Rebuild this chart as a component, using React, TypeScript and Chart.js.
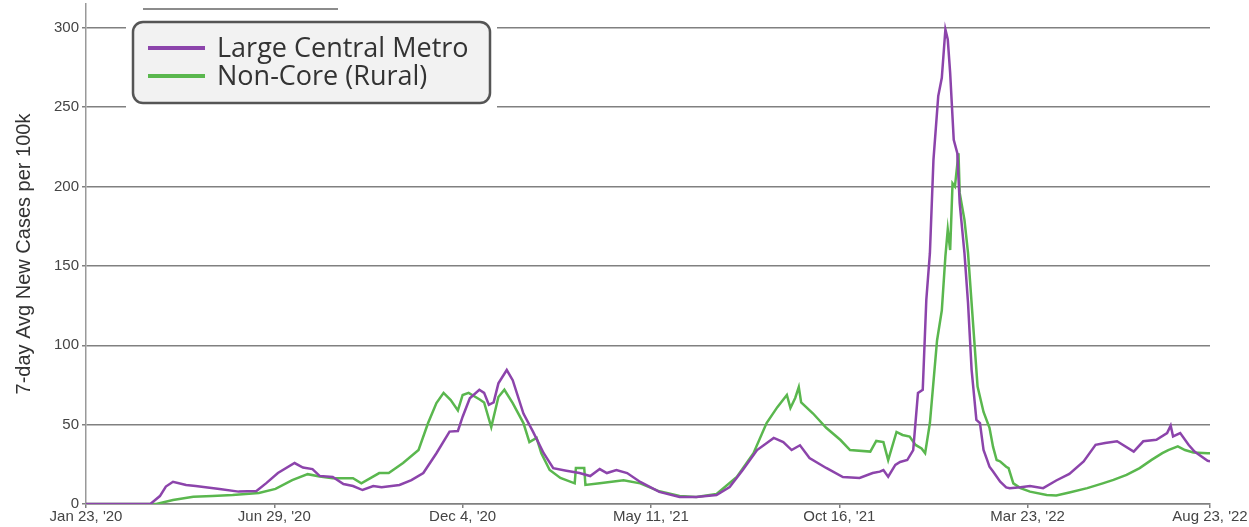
import React, { useEffect, useRef } from 'react';
import { Chart, registerables } from 'chart.js';

Chart.register(...registerables);

// x positions are days since Jan 23, 2020
const tickDays = [0, 158, 316, 474, 632, 790, 943];
const tickLabels = ["Jan 23, '20", "Jun 29, '20", "Dec 4, '20", "May 11, '21", "Oct 16, '21", "Mar 23, '22", "Aug 23, '22"];
const yTicks = [0, 50, 100, 150, 200, 250, 300];

const seriesNames = ['Large Central Metro', 'Non-Core (Rural)'];

const metroDays = [
  0, 54, 62, 67, 73, 84, 92, 112, 128, 143, 151, 161, 175, 182, 190, 196, 207, 216, 224, 232, 241, 248,
  263, 273, 283, 294, 305, 312, 316, 322, 330, 334, 338, 342, 346, 353, 358, 367, 375, 384, 392, 403,
  414, 423, 431, 437, 445, 454, 465, 481, 498, 512, 529, 540, 551, 563, 577, 585, 592, 599, 607, 621,
  635, 649, 660, 666, 669, 673, 679, 683, 689, 694, 698, 702, 705, 708, 711, 715, 718, 721, 723, 725,
  728, 731, 733, 737, 740, 743, 747, 750, 753, 756, 758, 761, 767, 772, 775, 784, 792, 803, 814, 825,
  837, 847, 855, 865, 879, 887, 898, 907, 910, 912, 918, 925, 930, 941, 943,
];
const metroValues = [
  0, 0, 5, 11, 14, 12, 11.3, 9.5, 7.8, 8.2, 13, 19.5, 25.8, 23, 22, 17.7, 17, 12.6, 11.3, 8.8, 11.3, 10.5,
  12, 15, 19.5, 32, 45.6, 46, 55, 66.6, 72, 70, 62.5, 64, 76, 84.4, 78, 57, 45.6, 32, 22.6, 21,
  19.5, 17.6, 22, 19.5, 21.4, 19.5, 13.9, 7.6, 4.4, 4.4, 5.7, 10.7, 21.4, 34, 41.6, 39, 34, 37, 29, 22.7,
  17, 16.4, 19.5, 20.4, 21.4, 17.2, 24.6, 26.5, 27.7, 34, 70, 72, 128.7, 158, 217, 257, 268.5, 299, 292.6, 271.6,
  229.5, 221, 189.6, 158, 126.5, 84.5, 53, 51, 34, 27.8, 23.5, 20.5, 14, 10.5, 9.9, 10.5, 11.4, 10, 14.8, 19,
  26.8, 37.3, 38.4, 39.5, 33, 39.5, 40.5, 44.7, 49.4, 42.6, 44.7, 37.3, 33, 27.2, 27,
];

const ruralDays = [
  0, 59, 73, 90, 106, 123, 145, 159, 173, 186, 196, 207, 224, 231, 246, 254, 266, 279, 287, 294, 300, 306,
  312, 316, 321, 330, 334, 340, 346, 351, 358, 367, 372, 378, 382, 389, 398, 410, 411, 418, 419, 431,
  451, 465, 481, 498, 512, 529, 546, 560, 571, 580, 588, 591, 595, 598, 600, 610, 621, 633, 641, 658,
  663, 669, 673, 680, 685, 691, 696, 701, 704, 708, 714, 718, 721, 723, 725, 727, 729, 732, 733, 737,
  740, 744, 748, 753, 758, 761, 764, 767, 772, 774, 778, 784, 792, 806, 814, 825, 840, 853, 862, 873,
  884, 894, 903, 908, 916, 922, 929, 941, 943,
];
const ruralValues = [
  0, 0, 2.5, 4.6, 5, 5.7, 7, 9.5, 15, 18.8, 17.3, 16.2, 16.2, 13, 19.5, 19.5, 25.8, 34, 51, 63.6, 70, 65.5,
  59, 68.7, 70, 66, 64, 48.5, 67.4, 72, 63.6, 51, 39, 41.6, 32, 21.4, 16.4, 13, 22.7, 22.7, 12, 13,
  15, 13, 8, 5, 4.4, 6.3, 17, 32, 51, 61, 68.7, 60.5, 66.8, 73.7, 64, 57, 48, 40.3, 34, 33,
  39.7, 39, 27.7, 45.4, 43.5, 42.5, 37.2, 35, 32, 51, 103, 122, 156, 173, 160, 202, 200, 221, 196, 179,
  158, 116, 74, 58, 48, 36, 27.7, 26.8, 23.5, 22.6, 13, 10, 7.8, 5.7, 5.3, 7.2, 10, 13, 15.2, 18.4,
  22.6, 27.8, 32, 34, 36.3, 34, 32.5, 32, 32,
];

const metroColor = '#8c44ab';
const ruralColor = '#5ab74e';
const tickFont = { family: '"Liberation Sans", Arial, sans-serif', size: 15 };

function roundedRect(ctx: CanvasRenderingContext2D, x: number, y: number, w: number, h: number, r: number) {
  ctx.beginPath();
  ctx.moveTo(x + r, y);
  ctx.lineTo(x + w - r, y);
  ctx.arcTo(x + w, y, x + w, y + r, r);
  ctx.lineTo(x + w, y + h - r);
  ctx.arcTo(x + w, y + h, x + w - r, y + h, r);
  ctx.lineTo(x + r, y + h);
  ctx.arcTo(x, y + h, x, y + h - r, r);
  ctx.lineTo(x, y + r);
  ctx.arcTo(x, y, x + r, y, r);
  ctx.closePath();
}

const boxLegend = {
  id: 'boxLegend',
  afterDatasetsDraw(chart: any) {
    const ctx: CanvasRenderingContext2D = chart.ctx;
    const left = chart.chartArea.left;
    const bx = left + 47;
    const by = 22;
    const bw = 357;
    const bh = 81;
    ctx.save();
    // faint line above the legend
    ctx.strokeStyle = '#666';
    ctx.lineWidth = 1.5;
    ctx.beginPath();
    ctx.moveTo(left + 57, 9);
    ctx.lineTo(left + 252, 9);
    ctx.stroke();
    // white surround
    ctx.fillStyle = '#ffffff';
    ctx.fillRect(bx - 7, by - 8, bw + 14, bh + 14);
    roundedRect(ctx, bx, by, bw, bh, 10);
    ctx.fillStyle = '#f2f2f2';
    ctx.fill();
    ctx.lineWidth = 2.5;
    ctx.strokeStyle = '#555';
    ctx.stroke();
    chart.data.datasets.forEach((ds: any, i: number) => {
      const y = by + 26 + i * 28;
      ctx.strokeStyle = ds.borderColor;
      ctx.lineWidth = 4;
      ctx.beginPath();
      ctx.moveTo(bx + 15, y);
      ctx.lineTo(bx + 72, y);
      ctx.stroke();
      ctx.fillStyle = '#333';
      ctx.font = '27px "Open Sans", sans-serif';
      ctx.textBaseline = 'middle';
      ctx.textAlign = 'left';
      ctx.fillText(ds.label, bx + 84, y + 1);
    });
    ctx.restore();
  },
};

export default function App() {
  const canvasRef = useRef<HTMLCanvasElement | null>(null);

  useEffect(() => {
    if (!canvasRef.current) return;
    const chart = new Chart(canvasRef.current, {
      type: 'line',
      data: {
        datasets: [
          {
            label: seriesNames[0],
            data: metroDays.map((d, i) => ({ x: d, y: metroValues[i] })),
            borderColor: metroColor,
            borderWidth: 2.5,
            pointRadius: 0,
            tension: 0,
            fill: false,
          },
          {
            label: seriesNames[1],
            data: ruralDays.map((d, i) => ({ x: d, y: ruralValues[i] })),
            borderColor: ruralColor,
            borderWidth: 2.5,
            pointRadius: 0,
            tension: 0,
            fill: false,
          },
        ],
      },
      options: {
        animation: false,
        responsive: true,
        maintainAspectRatio: false,
        layout: { padding: { top: 4, right: 39, bottom: 0, left: 0 } },
        plugins: {
          legend: { display: false },
          tooltip: { enabled: false },
        },
        scales: {
          x: {
            type: 'linear',
            min: 0,
            max: 943,
            afterBuildTicks: (s: any) => {
              s.ticks = tickDays.map((v) => ({ value: v }));
            },
            afterFit: (s: any) => {
              s.height = 23;
              s.paddingLeft = 0;
              s.paddingRight = 0;
            },
            ticks: {
              autoSkip: false,
              maxRotation: 0,
              padding: 0,
              font: tickFont,
              color: '#444',
              callback: (_v: any, i: number) => tickLabels[i],
            },
            grid: { drawOnChartArea: false, color: '#808080', lineWidth: 1.5, tickLength: 4 },
            border: { color: '#808080', width: 1.5 },
          },
          y: {
            min: 0,
            max: 315,
            afterBuildTicks: (s: any) => {
              s.ticks = yTicks.map((v) => ({ value: v }));
            },
            afterFit: (s: any) => {
              s.width = 86;
              s.paddingTop = 0;
              s.paddingBottom = 0;
            },
            ticks: { font: tickFont, color: '#444', padding: 3 },
            grid: { color: '#808080', lineWidth: 1.5, tickLength: 4 },
            border: { color: '#999', width: 1.5 },
            title: {
              display: true,
              text: '7-day Avg New Cases per 100k',
              font: { family: '"Liberation Sans", Arial, sans-serif', size: 20 },
              color: '#333',
              padding: { top: 12, bottom: 0 },
            },
          },
        },
      },
      plugins: [boxLegend],
    });
    return () => chart.destroy();
  }, []);

  return (
    <div style={{ position: 'absolute', left: 0, top: 0, width: 1249, height: 527, background: '#fff' }}>
      <canvas ref={canvasRef} />
    </div>
  );
}
